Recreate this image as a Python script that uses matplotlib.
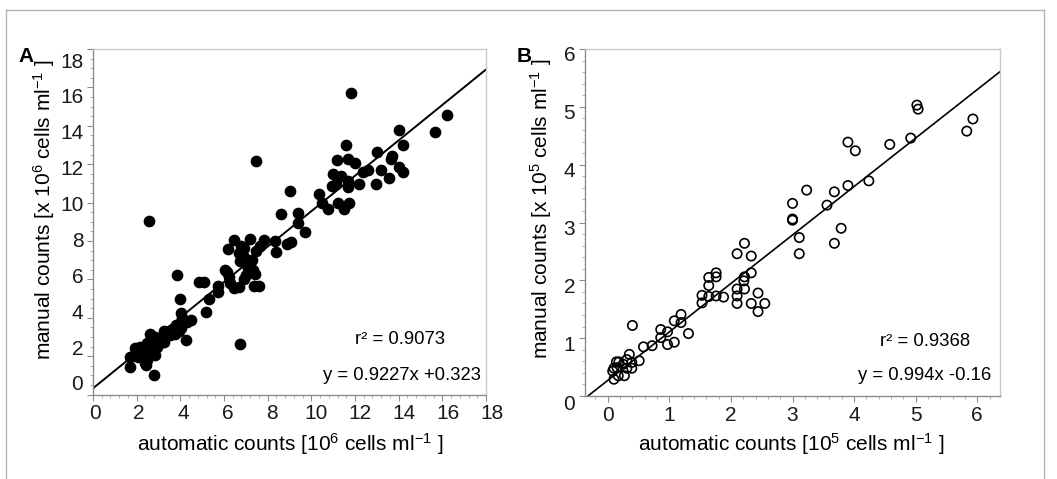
import matplotlib
matplotlib.use('Agg')
import matplotlib.pyplot as plt
from matplotlib.lines import Line2D
from matplotlib.ticker import MultipleLocator
from matplotlib.transforms import ScaledTranslation
import numpy as np

plt.rcParams['font.family'] = ['Liberation Sans', 'DejaVu Sans']
plt.rcParams['mathtext.fontset'] = 'custom'
plt.rcParams['mathtext.rm'] = 'Liberation Sans'
plt.rcParams['mathtext.it'] = 'Liberation Sans:italic'
plt.rcParams['mathtext.bf'] = 'Liberation Sans:bold'

# panel A: automatic vs manual counts (10^6 cells/ml)
auto_a = [11.80, 16.21, 15.68, 14.00, 14.20, 14.21, 14.00, 11.58, 12.99, 13.68,
          13.65, 11.69, 12.00, 11.19, 13.19, 12.38, 12.58, 10.99, 11.38, 11.69,
          11.15, 10.93, 11.69, 12.18, 12.96, 13.58, 11.20, 11.73, 11.51, 10.36,
          10.48, 10.76, 9.03, 8.60, 9.40, 9.40, 9.72, 8.33, 8.40, 8.90,
          9.05, 7.84, 7.21, 6.48, 6.20, 7.64, 6.80, 6.91, 7.48, 6.70,
          6.92, 7.30, 6.72, 6.16, 6.05, 6.23, 7.10, 7.33, 7.00, 7.41,
          6.92, 7.38, 7.61, 6.26, 6.48, 6.68, 3.87, 4.86, 5.10, 5.73,
          5.73, 5.32, 3.99, 5.18, 4.02, 4.08, 4.48, 4.31, 3.79, 4.05,
          3.93, 3.59, 3.36, 3.26, 3.51, 3.74, 4.28, 3.24, 2.60, 2.83,
          3.12, 2.67, 2.48, 2.14, 2.32, 2.60, 2.93, 2.46, 2.14, 1.99,
          2.37, 2.64, 1.68, 2.08, 2.29, 2.84, 2.38, 1.70, 2.80, 6.75,
          2.57, 7.46, 1.91, 2.17, 2.47, 2.75, 3.06, 2.44]
manual_a = [15.73, 14.55, 13.65, 13.78, 12.99, 11.58, 11.86, 12.99, 12.64, 12.41,
            12.29, 12.29, 12.06, 12.22, 11.72, 11.60, 11.68, 11.47, 11.37, 11.10,
            10.96, 10.85, 10.82, 10.97, 10.97, 11.29, 9.99, 10.00, 9.67, 10.42,
            10.00, 9.67, 10.61, 9.41, 9.43, 8.94, 8.44, 8.00, 7.45, 7.86,
            7.92, 8.04, 8.11, 8.04, 7.57, 7.75, 7.74, 7.61, 7.47, 7.35,
            7.17, 7.00, 6.96, 6.39, 6.48, 6.13, 6.60, 6.51, 6.22, 6.30,
            6.04, 5.64, 5.67, 5.81, 5.56, 5.58, 6.25, 5.84, 5.84, 5.64,
            5.35, 4.97, 5.00, 4.31, 4.22, 4.00, 3.86, 3.76, 3.62, 3.44,
            3.31, 3.36, 3.18, 3.31, 3.10, 3.15, 2.84, 2.75, 3.13, 2.98,
            2.80, 2.84, 2.70, 2.49, 2.40, 2.49, 2.49, 2.32, 2.23, 2.23,
            2.09, 2.09, 1.93, 1.93, 1.88, 2.05, 1.66, 1.42, 1.02, 2.65,
            9.06, 12.16, 2.40, 2.14, 1.80, 2.32, 2.66, 1.53]
fit_a = (0.9227, 0.323)

# panel B: automatic vs manual counts (10^5 cells/ml)
auto_b = [5.93, 5.83, 5.02, 5.04, 4.92, 4.58, 3.90, 4.02, 4.24, 3.90,
          3.68, 3.56, 3.23, 3.00, 3.00, 3.00, 3.11, 3.11, 3.79, 3.68,
          2.22, 2.10, 2.33, 2.33, 2.22, 2.21, 2.10, 2.22, 2.10, 2.10,
          2.33, 2.44, 2.44, 2.55, 1.76, 1.76, 1.64, 1.64, 1.64, 1.76,
          1.88, 1.53, 1.53, 1.19, 1.19, 1.08, 1.31, 1.08, 0.97, 0.86,
          0.86, 0.97, 0.72, 0.58, 0.51, 0.40, 0.35, 0.31, 0.39, 0.39,
          0.31, 0.27, 0.18, 0.15, 0.10, 0.08, 0.10, 0.17, 0.25, 0.14]
manual_b = [4.79, 4.58, 5.03, 4.96, 4.46, 4.35, 4.39, 4.24, 3.72, 3.64,
            3.53, 3.30, 3.56, 3.33, 3.06, 3.04, 2.74, 2.46, 2.90, 2.64,
            2.64, 2.46, 2.42, 2.13, 2.06, 1.99, 1.85, 1.85, 1.73, 1.60,
            1.60, 1.78, 1.46, 1.60, 2.13, 2.06, 2.05, 1.91, 1.72, 1.73,
            1.71, 1.74, 1.61, 1.41, 1.27, 1.30, 1.08, 0.93, 1.11, 1.15,
            1.01, 0.89, 0.87, 0.85, 0.61, 1.22, 0.72, 0.63, 0.58, 0.48,
            0.48, 0.35, 0.59, 0.49, 0.48, 0.43, 0.29, 0.35, 0.55, 0.59]
# regression line as drawn in panel B (axis scale of the picture)
fit_b = (0.838, 0.27)

W, H = 1057, 479
fig = plt.figure(figsize=(W / 100, H / 100), dpi=100)

# outer frame
frame_c = '#b4b4b4'
fig.add_artist(Line2D([6 / W, 1044 / W], [1 - 10 / H, 1 - 10 / H], color=frame_c, lw=1.0))
fig.add_artist(Line2D([6 / W, 6 / W], [0, 1 - 10 / H], color=frame_c, lw=1.0))
fig.add_artist(Line2D([1044 / W, 1044 / W], [0, 1 - 10 / H], color=frame_c, lw=1.0))

ax_a = fig.add_axes([93 / W, 1 - 394.5 / H, 393 / W, 345.5 / H])
ax_b = fig.add_axes([585 / W, 1 - 396 / H, 415 / W, 347 / H])


def style_axes(ax):
    for side in ['left', 'bottom']:
        ax.spines[side].set_color('#8c8c8c')
        ax.spines[side].set_linewidth(1.0)
    for side in ['top', 'right']:
        ax.spines[side].set_color('#c8c8c8')
        ax.spines[side].set_linewidth(1.0)
    ax.tick_params(which='major', direction='out', length=4, width=0.8, color='#8c8c8c',
                   labelsize=15, labelcolor='#1a1a1a', pad=3)
    ax.tick_params(which='minor', direction='out', length=2.5, width=0.6, color='#a0a0a0')
    ax.tick_params(top=False, right=False)


def shift_labels(ax, axis, fn):
    ticks = ax.xaxis.get_major_ticks() if axis == 'x' else ax.yaxis.get_major_ticks()
    locs = ax.get_xticks() if axis == 'x' else ax.get_yticks()
    for tick, v in zip(ticks, locs):
        dx, dy = fn(v)
        tick.label1.set_transform(tick.label1.get_transform() +
                                  ScaledTranslation(dx / 100, -dy / 100, fig.dpi_scale_trans))


# ---- panel A
style_axes(ax_a)
ax_a.scatter(auto_a, manual_a, s=55, color='black', edgecolor='black', zorder=3)
xx = np.array([0, 18])
ax_a.plot(xx, fit_a[0] * xx + fit_a[1], color='black', lw=1.4, zorder=2)
ax_a.set_xlim(0, 18)
ax_a.set_ylim(0, 18)
ax_a.set_xticks(range(0, 19, 2))
ax_a.set_yticks(range(0, 19, 2))
ax_a.xaxis.set_minor_locator(MultipleLocator(0.4))
ax_a.yaxis.set_minor_locator(MultipleLocator(0.5))
shift_labels(ax_a, 'x', lambda v: (2 + 0.23 * v, 0))
shift_labels(ax_a, 'y', lambda v: (0, -11.5 + 1.25 * v))
fig.text(400 / W, 1 - 339 / H, 'r² = 0.9073', fontsize=13.3, ha='center', va='center')
fig.text(402 / W, 1 - 375 / H, 'y = 0.9227x +0.323', fontsize=13.3, ha='center', va='center')
fig.text(26 / W, 1 - 57 / H, 'A', fontsize=15, fontweight='bold', ha='center', va='center')
fig.text(290 / W, 1 - 451 / H, r'automatic counts [10$^{6}$ cells ml$^{-1}$ ]', fontsize=15,
         ha='center', va='baseline')
fig.text(44 / W, 1 - 210 / H, r'manual counts [x 10$^{6}$ cells ml$^{-1}$ ]', fontsize=15,
         ha='center', va='center', rotation=90)

# ---- panel B
style_axes(ax_b)
ax_b.scatter(auto_b, manual_b, s=45, facecolor='none', edgecolor='black', linewidth=1.2, zorder=3)
xb = np.array([-0.37, 6.37])
ax_b.plot(xb, fit_b[0] * xb + fit_b[1], color='black', lw=1.2, zorder=2)
ax_b.set_xlim(-0.37, 6.37)
ax_b.set_ylim(0, 6)
ax_b.set_xticks(range(0, 7))
ax_b.set_yticks(range(0, 7))
ax_b.xaxis.set_minor_locator(MultipleLocator(0.2))
ax_b.yaxis.set_minor_locator(MultipleLocator(0.2))
shift_labels(ax_b, 'y', lambda v: (0, 6 - 0.3 * v))
fig.text(925 / W, 1 - 342 / H, 'r² = 0.9368', fontsize=13.3, ha='center', va='center')
fig.text(925 / W, 1 - 376 / H, 'y = 0.994x -0.16', fontsize=13.3, ha='center', va='center')
fig.text(524 / W, 1 - 56 / H, 'B', fontsize=15, fontweight='bold', ha='center', va='center')
fig.text(791 / W, 1 - 451 / H, r'automatic counts [10$^{5}$ cells ml$^{-1}$ ]', fontsize=15,
         ha='center', va='baseline')
fig.text(541 / W, 1 - 209 / H, r'manual counts [x 10$^{5}$ cells ml$^{-1}$ ]', fontsize=15,
         ha='center', va='center', rotation=90)

fig.savefig('out.png', dpi=100, facecolor='white')
